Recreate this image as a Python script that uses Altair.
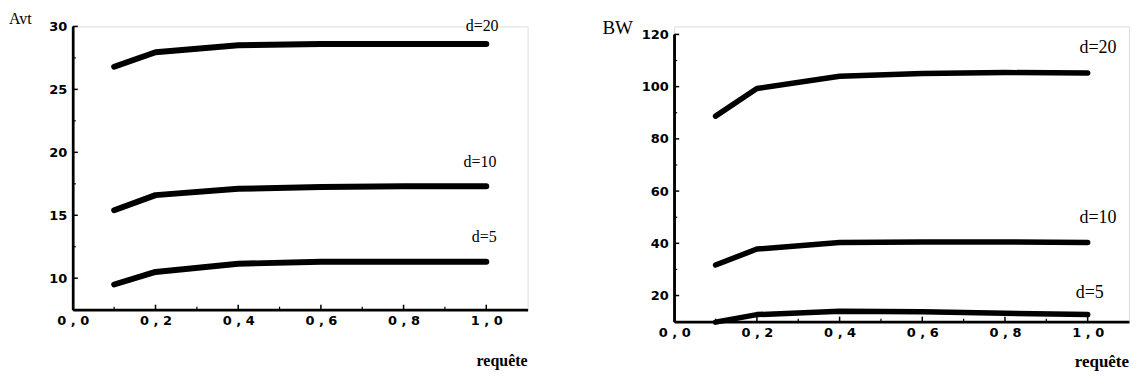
import altair as alt
import pandas as pd

# ---------------- data ----------------
x_vals = [0.1, 0.2, 0.4, 0.6, 0.8, 1.0]
series = ["d=20", "d=10", "d=5"]

avt_d20 = [26.8, 27.95, 28.5, 28.6, 28.6, 28.6]
avt_d10 = [15.4, 16.6, 17.1, 17.25, 17.3, 17.3]
avt_d5 = [9.5, 10.5, 11.15, 11.3, 11.3, 11.3]

bw_d20 = [88.7, 99.3, 104.0, 105.0, 105.4, 105.2]
bw_d10 = [31.7, 37.8, 40.3, 40.5, 40.5, 40.3]
bw_d5 = [9.8, 12.7, 14.0, 13.8, 13.2, 12.7]

avt_label_x = [0.99, 0.985, 0.995]
avt_label_y = [30.0, 19.2, 13.3]
bw_label_x = [1.025, 1.025, 1.005]
bw_label_y = [114.7, 49.8, 20.8]

avt_ticks_major = [10, 15, 20, 25, 30]
avt_ticks_minor = [12.5, 17.5, 22.5, 27.5]
bw_ticks_major = [20, 40, 60, 80, 100, 120]
bw_ticks_minor = [30, 50, 70, 90, 110]
x_ticks_major = [0.2, 0.4, 0.6, 0.8, 1.0]
x_ticks_minor = [0.1, 0.3, 0.5, 0.7, 0.9]
x_label_values = [0.0, 0.2, 0.4, 0.6, 0.8, 1.0]


def panel(series_vals, label_x, label_y, y_domain, y_major, y_minor,
          y_title, width, height, top_gap, title_dx, title_dy, title_size,
          spacer_dy, req_dy, req_size, lab_size, stroke_w):
    rows = []
    for name, vals in zip(series, series_vals):
        for xv, yv in zip(x_vals, vals):
            rows.append({"x": xv, "y": yv, "s": name})
    df = pd.DataFrame(rows)
    xscale = alt.Scale(domain=[0, 1.1], nice=False, zero=False)
    yscale = alt.Scale(domain=y_domain, nice=False, zero=False,
                       range=[height, top_gap])

    xaxis = alt.Axis(values=x_label_values,
                     labelExpr="replace(format(datum.value, '.1f'), '.', ' , ')",
                     ticks=False, grid=False, domain=True, domainColor="black",
                     domainWidth=2.5, zindex=2,
                     labelFont="DejaVu Sans", labelFontWeight="bold", labelFontSize=13,
                     labelColor="black", labelPadding=5, title=None, labelFlush=False)
    yaxis = alt.Axis(values=y_major, ticks=False, grid=False, domain=True,
                     domainColor="black", domainWidth=2.5, zindex=2,
                     labelFont="DejaVu Sans", labelFontWeight="bold",
                     labelFontSize=13, labelColor="black", labelPadding=6, title=None)

    X = lambda f: alt.X(f, scale=xscale, axis=xaxis)
    Y = lambda f: alt.Y(f, scale=yscale, axis=yaxis)

    lines = alt.Chart(df).mark_line(color="black", strokeWidth=stroke_w,
                                    strokeCap="round", strokeJoin="round").encode(
        x=X("x:Q"), y=Y("y:Q"), detail="s:N")

    ldf = pd.DataFrame({"x": label_x, "y": label_y, "t": series})
    labels = alt.Chart(ldf).mark_text(font="Liberation Serif", fontSize=lab_size,
                                      color="black", align="center", baseline="middle").encode(
        x=X("x:Q"), y=Y("y:Q"), text="t:N")

    ymaj = alt.Chart(pd.DataFrame({"y": y_major})).mark_rule(color="black", strokeWidth=1.5).encode(
        y=Y("y:Q"), x=alt.value(0), x2=alt.value(5))
    ymin = alt.Chart(pd.DataFrame({"y": y_minor})).mark_rule(color="black", strokeWidth=1.2).encode(
        y=Y("y:Q"), x=alt.value(0), x2=alt.value(3))
    xmaj = alt.Chart(pd.DataFrame({"x": x_ticks_major})).mark_rule(color="black", strokeWidth=1.5).encode(
        x=X("x:Q"), y=alt.value(height), y2=alt.value(height - 5))
    xmin = alt.Chart(pd.DataFrame({"x": x_ticks_minor})).mark_rule(color="black", strokeWidth=1.2).encode(
        x=X("x:Q"), y=alt.value(height), y2=alt.value(height - 3))

    # axis lines as thin filled bars spanning the scale domains
    ybar = alt.Chart(pd.DataFrame({"a": [y_domain[0]], "b": [y_domain[1]]})).mark_rect(
        color="black", opacity=1).encode(
        y=Y("a:Q"), y2="b:Q", x=alt.value(-1), x2=alt.value(1))
    xbar = alt.Chart(pd.DataFrame({"a": [0.0], "b": [1.1]})).mark_rect(
        color="black", opacity=1).encode(
        x=X("a:Q"), x2="b:Q", y=alt.value(height - 1), y2=alt.value(height + 1))

    ytitle = alt.Chart(pd.DataFrame({"t": [y_title]})).mark_text(
        font="Liberation Serif", fontSize=title_size, color="black",
        align="left", baseline="alphabetic").encode(
        x=alt.value(title_dx), y=alt.value(title_dy), text="t:N")

    req = alt.Chart(pd.DataFrame({"t": ["requête"]})).mark_text(
        font="Liberation Serif", fontSize=req_size, fontWeight="bold", color="black",
        align="right", baseline="middle").encode(
        x=alt.value(width), y=alt.value(height + req_dy), text="t:N")

    spacer = alt.Chart(pd.DataFrame({"t": ["."]})).mark_text(
        opacity=0, baseline="top", align="left", fontSize=8).encode(
        x=alt.value(0), y=alt.value(spacer_dy), text="t:N")

    return alt.layer(ybar, xbar, lines, labels, ymaj, ymin, xmaj, xmin,
                     ytitle, req, spacer).properties(width=width, height=height)


left = panel([avt_d20, avt_d10, avt_d5], avt_label_x, avt_label_y, [7.5, 30],
             avt_ticks_major, avt_ticks_minor, "Avt", 456, 284, 0,
             -64, -2, 16, -17, 51, 16, 16, 6)
right = panel([bw_d20, bw_d10, bw_d5], bw_label_x, bw_label_y, [10, 120],
              bw_ticks_major, bw_ticks_minor, "BW", 456, 296, 8,
              -72, 8, 19, 0, 40, 17, 18, 5.5)

chart = alt.hconcat(left, right, spacing=73).properties(
    padding={"left": 0, "top": 0, "right": 0, "bottom": 0}
).configure_view(stroke=None).configure(background="white")

chart.save("out.html", embed_options={"renderer": "svg", "actions": False})
